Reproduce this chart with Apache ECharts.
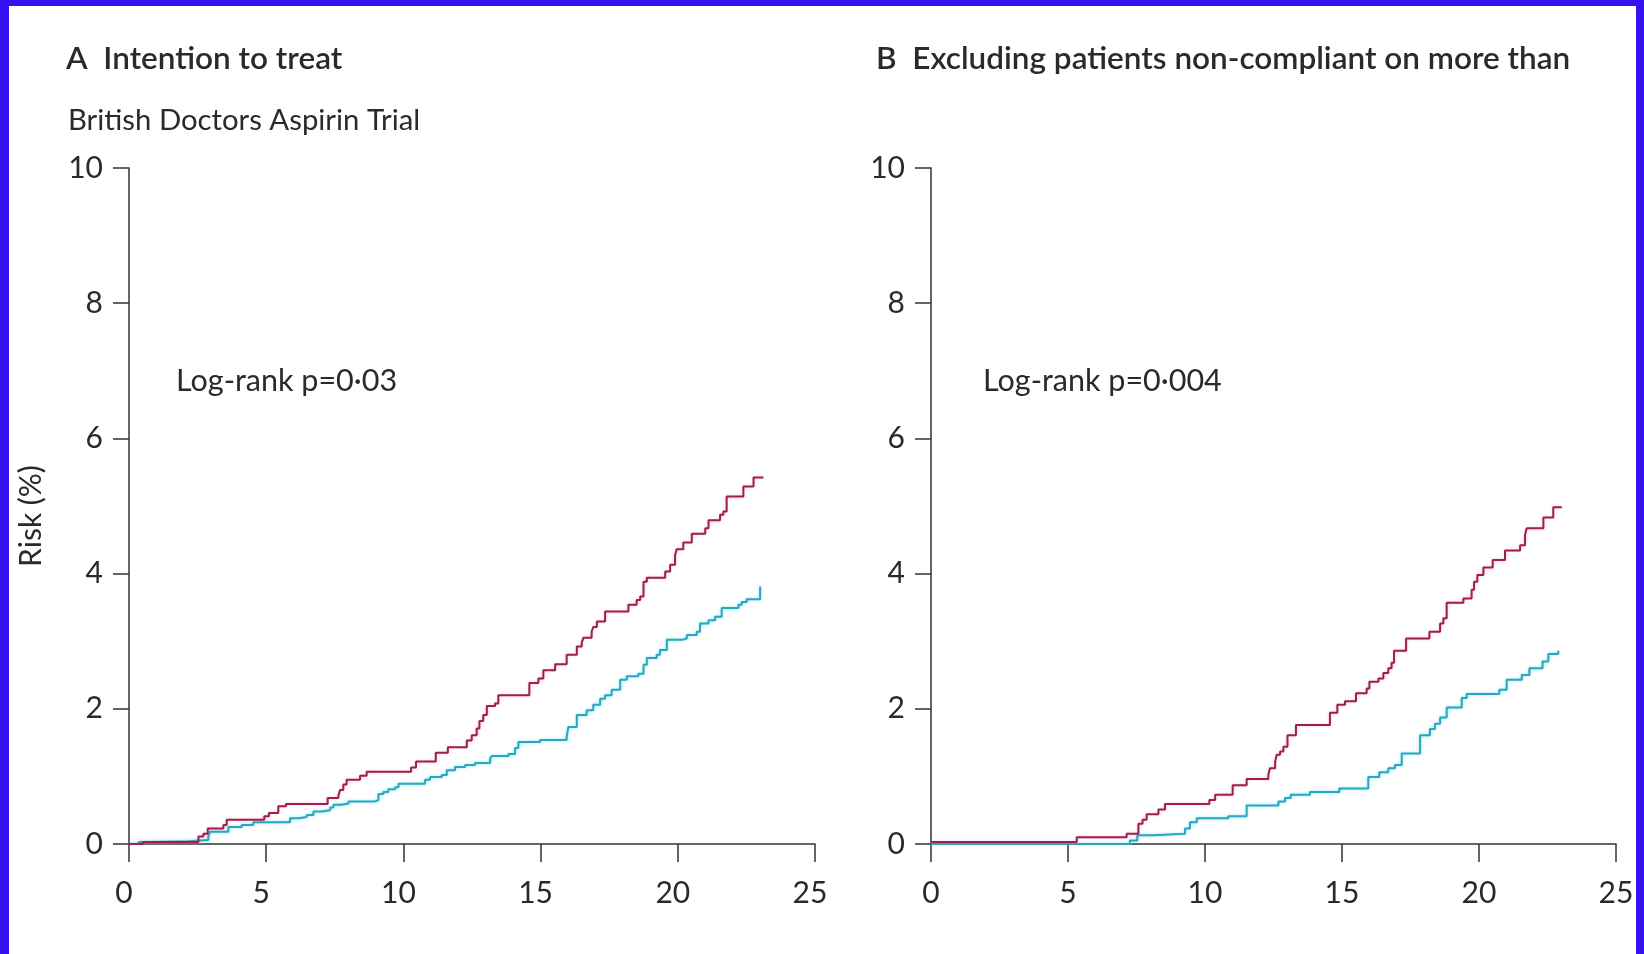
<!DOCTYPE html>
<html><head><meta charset="utf-8">
<script src="https://cdn.jsdelivr.net/npm/echarts@6/dist/echarts.min.js"></script>
<style>
html,body{margin:0;padding:0;background:#fff;}
#c{position:absolute;left:0;top:0;width:1644px;height:954px;}
.b{position:absolute;background:#3512f2;}
</style></head><body>
<div id="c"></div>
<div class="b" style="left:0;top:0;width:9px;height:954px"></div>
<div class="b" style="left:0;top:0;width:1644px;height:6px"></div>
<div class="b" style="left:1636px;top:0;width:8px;height:954px"></div>
<script>
const xTicks = [0, 5, 10, 15, 20, 25];
const yTicks = [0, 2, 4, 6, 8, 10];
const redCurveA = [[0,0],[0.5,0.03],[2.53,0.11],[2.71,0.15],[2.87,0.23],[3.44,0.28],[3.56,0.36],[4.93,0.41],[5.10,0.46],[5.44,0.56],[5.72,0.59],[7.24,0.68],[7.63,0.71],[7.69,0.80],[7.81,0.88],[7.93,0.95],[8.42,1.01],[8.66,1.07],[10.28,1.13],[10.46,1.22],[11.18,1.35],[11.62,1.43],[12.31,1.53],[12.49,1.61],[12.67,1.71],[12.77,1.82],[12.91,1.91],[13.04,2.04],[13.34,2.08],[13.46,2.20],[14.59,2.38],[14.92,2.45],[15.10,2.57],[15.53,2.66],[15.95,2.80],[16.32,2.92],[16.50,2.98],[16.56,3.05],[16.86,3.14],[16.92,3.21],[17.05,3.29],[17.35,3.44],[18.20,3.54],[18.50,3.61],[18.63,3.66],[18.75,3.88],[18.87,3.94],[19.54,4.03],[19.72,4.13],[19.90,4.27],[19.96,4.36],[20.20,4.46],[20.51,4.59],[21.00,4.67],[21.12,4.79],[21.54,4.87],[21.66,4.92],[21.78,5.14],[22.39,5.29],[22.76,5.42],[23.12,5.42]];
const cyanCurveA = [[0,0],[0.35,0.03],[0.75,0.04],[2.16,0.06],[2.89,0.11],[2.95,0.18],[3.62,0.25],[4.11,0.28],[4.53,0.32],[5.87,0.38],[6.17,0.40],[6.48,0.43],[6.72,0.48],[7.02,0.50],[7.33,0.54],[7.45,0.58],[7.75,0.60],[8.0,0.63],[8.97,0.65],[9.09,0.74],[9.27,0.77],[9.45,0.81],[9.70,0.84],[9.82,0.89],[10.79,0.95],[10.97,0.99],[11.40,1.02],[11.58,1.09],[11.88,1.14],[12.25,1.17],[12.61,1.20],[13.16,1.27],[13.22,1.30],[13.83,1.33],[14.07,1.42],[14.19,1.51],[14.98,1.54],[15.95,1.59],[16.01,1.73],[16.32,1.91],[16.68,1.98],[16.92,2.06],[17.17,2.15],[17.35,2.20],[17.59,2.28],[17.90,2.43],[18.14,2.48],[18.56,2.52],[18.75,2.65],[18.87,2.75],[19.23,2.80],[19.35,2.87],[19.60,3.02],[20.14,3.04],[20.33,3.09],[20.69,3.14],[20.81,3.26],[21.12,3.31],[21.36,3.36],[21.60,3.49],[22.21,3.54],[22.33,3.58],[22.51,3.62],[23.0,3.62],[23.0,3.81]];
const redCurveB = [[0,0.03],[5.32,0.10],[7.14,0.15],[7.57,0.30],[7.72,0.36],[7.87,0.44],[8.30,0.51],[8.54,0.59],[10.16,0.65],[10.37,0.73],[11.01,0.87],[11.52,0.96],[12.31,1.02],[12.37,1.12],[12.56,1.22],[12.62,1.32],[12.74,1.37],[12.86,1.44],[13.01,1.61],[13.32,1.76],[14.56,1.94],[14.83,2.06],[15.11,2.11],[15.51,2.23],[15.90,2.30],[16.00,2.40],[16.33,2.45],[16.51,2.53],[16.69,2.60],[16.81,2.68],[16.90,2.86],[17.34,3.04],[18.19,3.14],[18.58,3.26],[18.70,3.34],[18.82,3.57],[19.43,3.63],[19.73,3.76],[19.82,3.88],[19.94,3.98],[20.16,4.09],[20.50,4.20],[20.95,4.34],[21.50,4.42],[21.68,4.57],[21.74,4.67],[22.35,4.83],[22.71,4.98],[23.02,4.98]];
const cyanCurveB = [[0,0],[7.26,0.05],[7.53,0.13],[8.11,0.15],[9.27,0.23],[9.45,0.32],[9.70,0.38],[10.85,0.41],[11.52,0.57],[12.68,0.63],[12.92,0.68],[13.13,0.73],[13.83,0.77],[14.90,0.82],[15.96,0.99],[16.36,1.06],[16.69,1.12],[16.93,1.17],[17.18,1.34],[17.85,1.61],[18.21,1.70],[18.39,1.78],[18.58,1.87],[18.82,2.02],[19.37,2.16],[19.55,2.22],[20.74,2.28],[21.01,2.43],[21.56,2.50],[21.84,2.60],[22.32,2.70],[22.53,2.81],[22.89,2.86]];
const panelTitles = ['A\u2002Intention to treat', 'B\u2002Excluding patients non-compliant on more than'];
const subTitleA = 'British Doctors Aspirin Trial';
const pValues = ['Log-rank p=0\u00b703', 'Log-rank p=0\u00b7004'];
const yAxisName = 'Risk (%)';

const FONT = 'Lato, sans-serif';
const TXT = '#2a2a2a';
const RED = '#a01e4e';
const CYAN = '#2aa6bf';

const grids = [
  {left: 129, top: 168, width: 686, height: 676},
  {left: 931, top: 168, width: 685, height: 676}
];
function xa(i, pad){return {gridIndex:i,type:'value',min:xTicks[0],max:xTicks[xTicks.length-1],interval:xTicks[1]-xTicks[0],
  axisLine:{show:true,onZero:false,lineStyle:{color:'#333',width:1.5}},
  axisTick:{show:true,length:18,lineStyle:{color:'#333',width:1.5}},
  axisLabel:{margin:34,fontSize:30,color:TXT,fontFamily:FONT,padding:pad},
  splitLine:{show:false}};}
function ya(i){return {gridIndex:i,type:'value',min:yTicks[0],max:yTicks[yTicks.length-1],interval:yTicks[1]-yTicks[0],
  axisLine:{show:true,onZero:false,lineStyle:{color:'#333',width:1.5}},
  axisTick:{show:true,length:16,lineStyle:{color:'#333',width:1.5}},
  axisLabel:{margin:26,fontSize:30,color:TXT,fontFamily:FONT},
  splitLine:{show:false}};}
function ser(data, i, color, glow){return {type:'line',xAxisIndex:i,yAxisIndex:i,data:data,step:'end',
  showSymbol:false,symbol:'none',animation:false,
  lineStyle:{color:color,width:2,shadowColor:glow,shadowBlur:3}};}

const chart = echarts.init(document.getElementById('c'), null, {renderer:'canvas'});
chart.setOption({
  backgroundColor:'#fff',
  animation:false,
  grid: grids,
  xAxis:[xa(0,[0,10,0,0]),xa(1,[0,0,0,0])],
  yAxis:[ya(0),ya(1)],
  title:[
    {text:panelTitles[0],left:61,top:38,textStyle:{fontSize:31.5,fontWeight:600,color:TXT,fontFamily:FONT}},
    {text:panelTitles[1],left:871,top:38,textStyle:{fontSize:31.5,fontWeight:600,color:TXT,fontFamily:FONT}},
    {text:subTitleA,left:63,top:101,textStyle:{fontSize:29.3,fontWeight:400,color:TXT,fontFamily:FONT}},
    {text:pValues[0],left:171,top:361,textStyle:{fontSize:30.5,fontWeight:400,color:TXT,fontFamily:FONT}},
    {text:pValues[1],left:978,top:361,textStyle:{fontSize:30.5,fontWeight:400,color:TXT,fontFamily:FONT}}
  ],
  graphic:[{type:'text',x:31,y:516,rotation:Math.PI/2,style:{text:yAxisName,font:'30px '+FONT,fill:TXT,textAlign:'center',textVerticalAlign:'middle'}}],
  series:[
    ser(cyanCurveA,0,CYAN,'rgba(60,210,235,0.6)'),
    ser(redCurveA,0,RED,'rgba(230,120,160,0.4)'),
    ser(cyanCurveB,1,CYAN,'rgba(60,210,235,0.6)'),
    ser(redCurveB,1,RED,'rgba(230,120,160,0.4)')
  ]
});
</script></body></html>
